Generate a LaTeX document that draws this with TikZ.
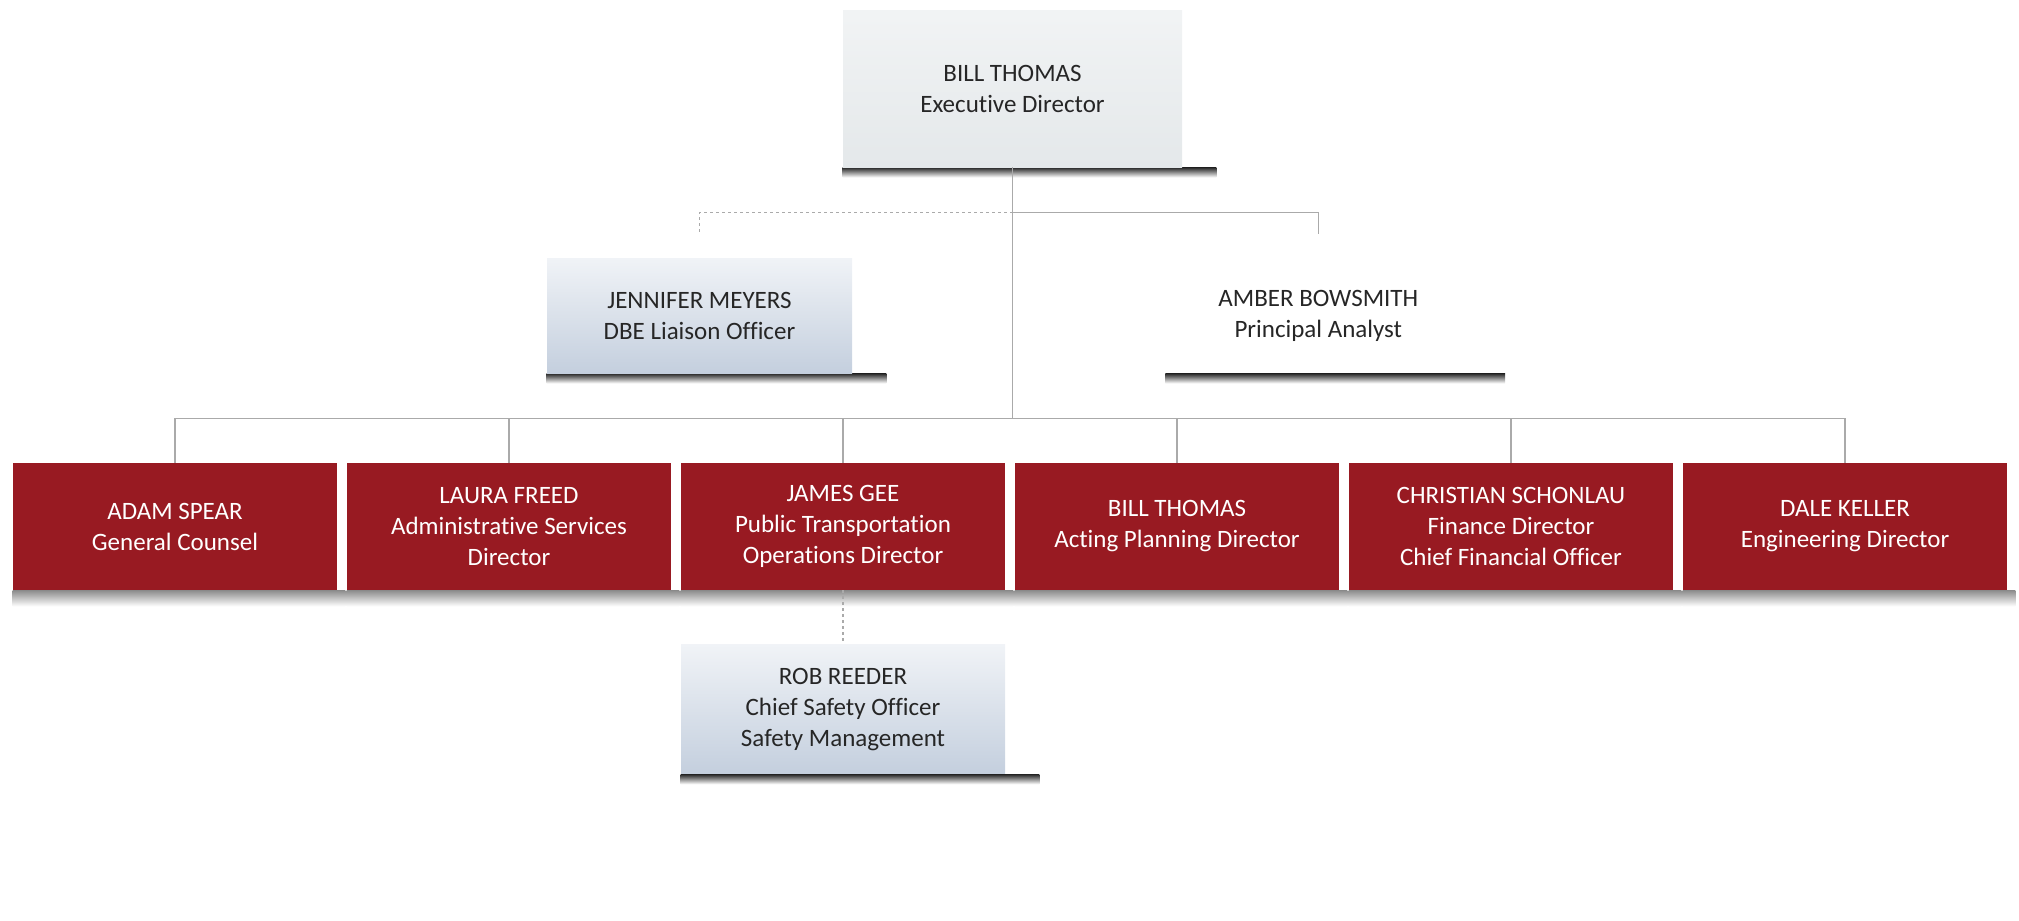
\documentclass[tikz,border=0pt]{standalone}
\usepackage{fontspec}
\setmainfont[Ligatures=NoCommon]{Carlito}
\usetikzlibrary{positioning,backgrounds}
\definecolor{boardred}{RGB}{152,26,34}
\definecolor{paleblue}{RGB}{196,207,222}
\definecolor{palegray}{RGB}{228,232,234}
\definecolor{linegray}{RGB}{170,170,170}
\tikzset{
    %Define style for boxes
    headbox/.style={
           rectangle,
           minimum width=169.5pt,
           minimum height=78.5pt,
           font=\fontsize{12.5}{15.5}\selectfont,
           align=center,
           text=black!85,
           top color=palegray!50!white, bottom color=palegray},
    staffbox/.style={
           rectangle,
           minimum width=152.5pt,
           minimum height=57.5pt,
           font=\fontsize{12.5}{15.5}\selectfont,
           align=center,
           text=black!85,
           top color=paleblue!25!white, bottom color=paleblue},
    openbox/.style={
           rectangle,
           minimum width=152.5pt,
           minimum height=57.5pt,
           font=\fontsize{12.5}{15.5}\selectfont,
           align=center,
           text=black!85},
    deptbox/.style={
           rectangle,
           minimum width=162pt,
           minimum height=63.5pt,
           font=\fontsize{12.5}{15.5}\selectfont,
           align=center,
           text=white,
           fill=boardred},
    % Define connector style
    link/.style={draw=linegray, line width=0.7pt},
    dotlink/.style={link, dash pattern=on 1.5pt off 1.5pt},
    shadowbar/.style={top color=black!85, bottom color=white}
}

\begin{document}
\begin{tikzpicture}[node distance=4.6pt]

\useasboundingbox (0,0) rectangle (1009.5pt,-460.5pt);

 %nodes

\node[headbox](exec) at (506.25pt,-44.25pt){BILL THOMAS\\Executive Director};
\node[staffbox](jm) at (349.75pt,-157.75pt){JENNIFER MEYERS\\DBE Liaison Officer};
\node[openbox, right=156.5pt of jm](ab){AMBER BOWSMITH\\Principal Analyst};

\node[deptbox](as) at (87.5pt,-263.25pt){ADAM SPEAR\\General Counsel};
\node[deptbox, right=of as](lf){LAURA FREED\\Administrative Services\\Director};
\node[deptbox, right=of lf](jg){JAMES GEE\\Public Transportation\\Operations Director};
\node[deptbox, right=of jg](bt){BILL THOMAS\\Acting Planning Director};
\node[deptbox, right=of bt](cs){CHRISTIAN SCHONLAU\\Finance Director\\Chief Financial Officer};
\node[deptbox, right=of cs](dk){DALE KELLER\\Engineering Director};

\node[staffbox, minimum width=162pt, minimum height=64.5pt, below=27pt of jg](rr){ROB REEDER\\Chief Safety Officer\\Safety Management};

 %shadows
\begin{pgfonlayer}{background}
  \foreach \n in {exec,jm,ab,rr}
    \shade[shadowbar] (\n.south west) rectangle ([xshift=17pt,yshift=-5pt]\n.south east);
  \foreach \n in {as,lf,jg,bt,cs,dk}
    \shade[shadowbar, top color=black!45] (\n.south west) rectangle ([xshift=4pt,yshift=-8pt]\n.south east);
\end{pgfonlayer}

 %connectors
\coordinate (upper) at ([yshift=-22.5pt]exec.south);
\coordinate (bus) at ([yshift=-125.5pt]exec.south);

\draw[link] (exec.south) -- (bus);
\draw[dotlink] (upper) -| ([yshift=13pt]jm.north);
\draw[link] (upper) -| ([yshift=12pt]ab.north);
\draw[link] (as.north) -- (as.north |- bus) -- (dk.north |- bus) -- (dk.north);
\foreach \n in {lf,jg,bt,cs}
  \draw[link] (\n.north) -- (\n.north |- bus);
\draw[dotlink] (jg.south) -- (rr.north);

\end{tikzpicture}
\end{document}
